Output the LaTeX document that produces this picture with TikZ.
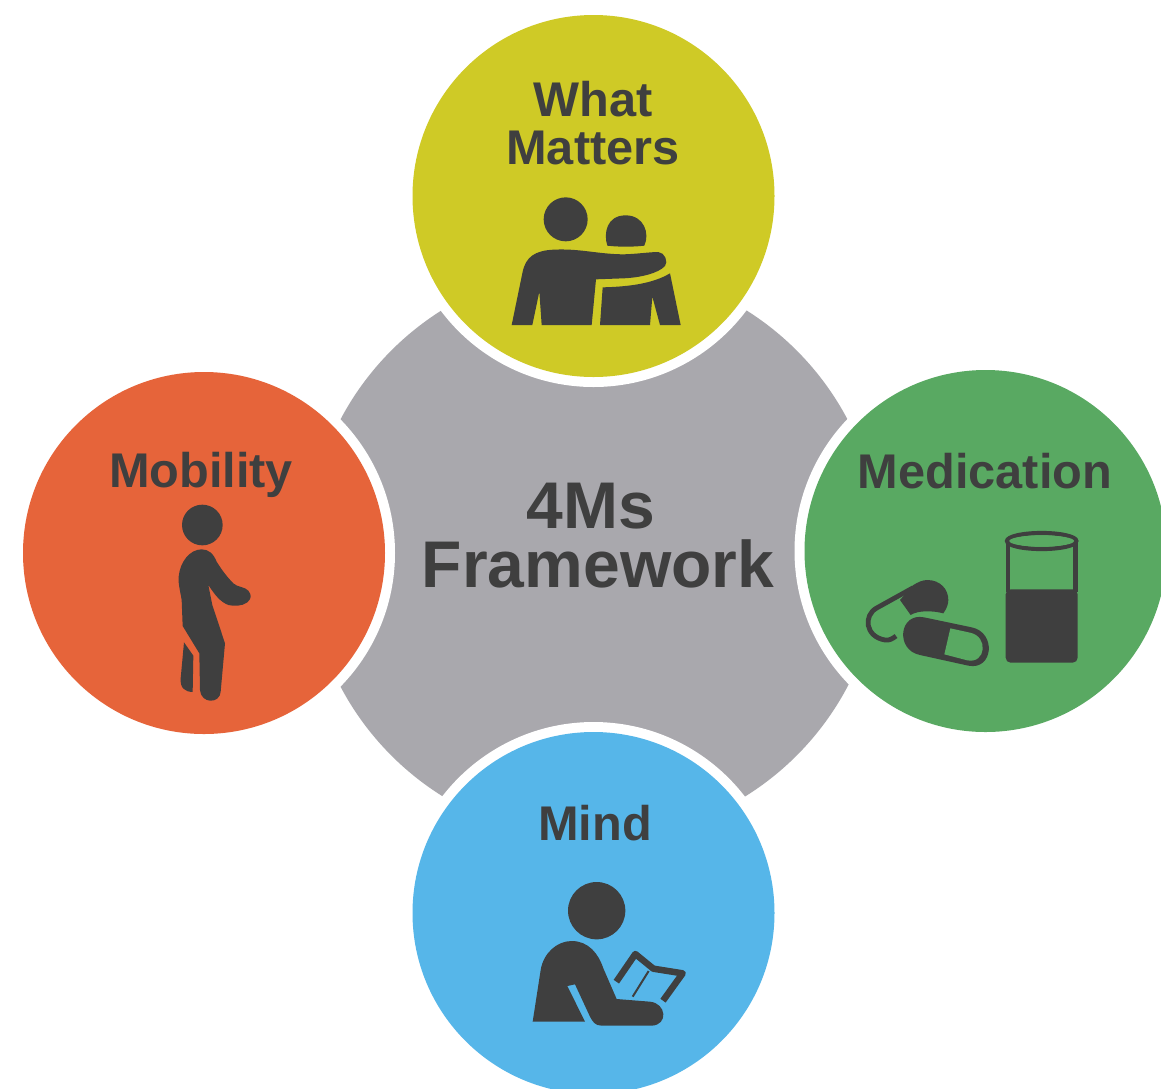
\documentclass[tikz,border=0pt]{standalone}
\usepackage{fontspec}
\setmainfont{Liberation Sans}
\definecolor{ink}{HTML}{3F3F3F}
\definecolor{cyellow}{HTML}{CFCA26}
\definecolor{corange}{HTML}{E6643A}
\definecolor{cgreen}{HTML}{59A962}
\definecolor{cblue}{HTML}{56B6E9}
\definecolor{cgrey}{HTML}{A9A8AD}
\tikzset{
  hub/.style={circle,fill=cgrey,draw=none,inner sep=0pt,minimum size=573pt},
  halo/.style={circle,fill=white,draw=none,inner sep=0pt,minimum size=382pt},
  disc/.style={circle,draw=none,inner sep=0pt,minimum size=362pt},
  lab/.style={text=ink,anchor=base,inner sep=0pt,font=\fontsize{48.7}{48.7}\selectfont\bfseries},
  biglab/.style={text=ink,anchor=base,inner sep=0pt,font=\fontsize{66}{66}\selectfont\bfseries},
  icon/.style={fill=ink,draw=none},
  iconline/.style={draw=ink,fill=none}
}
\begin{document}
\begin{tikzpicture}[x=1pt,y=-1pt]
\useasboundingbox (0,0) rectangle (1161,1088);
\clip (0,0) rectangle (1161,1088);
\fill[white] (0,0) rectangle (1161,1088);
\node[hub] (centre) at (594,553) {};
\node[halo] (h1) at (593.5,196) {};
\node[halo] (h2) at (593.5,913) {};
\node[halo] (h3) at (204,553) {};
\node[halo] (h4) at (985.5,551) {};
\node[disc,fill=cyellow] (top) at (593.5,196) {};
\node[disc,fill=cblue] (bottom) at (593.5,913) {};
\node[disc,fill=corange] (left) at (204,553) {};
\node[disc,fill=cgreen] (right) at (985.5,551) {};
\node[biglab] (t1) at (591,528) {4Ms};
\node[biglab] (t2) at (598,587) {Framework};
\node[lab] (l1) at (593,116.5) {What};
\node[lab] (l2) at (593,164.5) {Matters};
\node[lab] (l3) at (201,487) {Mobility};
\node[lab] (l4) at (985,488.5) {Medication};
\node[lab] (l5) at (595,840.5) {Mind};
% What Matters icon
\begin{scope}[shift={(490,180)},scale=1/3]
\fill[icon] (227,118) circle (66);
\fill[icon] (352,197) .. controls (340,160) and (350,106) .. (407,106) .. controls (462,106) and (480,160) .. (463,197) .. controls (430,201) and (385,201) .. (352,197) -- cycle;
\fill[icon] (65,435) -- (98,275) .. controls (108,230) and (135,212) .. (190,209) .. controls (270,205) and (320,222) .. (400,223) .. controls (440,222) and (480,216) .. (505,216) .. controls (525,218) and (535,245) .. (525,258) .. controls (505,280) and (450,293) .. (400,295) -- (318,298) -- (305,435) -- (155,435) -- (148,335) -- (127,435) -- cycle;
\fill[icon] (338,322) .. controls (420,320) and (490,310) .. (540,280) -- (572,435) -- (510,435) -- (487,350) -- (480,435) -- (330,435) -- cycle;
\end{scope}
% Mobility icon
\begin{scope}[shift={(150,490)},scale=1/3]
\fill[icon] (157,105) circle (61);
\fill[icon] (155,178) .. controls (175,178) and (190,190) .. (200,215) .. controls (215,240) and (235,265) .. (250,280) .. controls (262,292) and (285,290) .. (295,302) .. controls (305,315) and (305,325) .. (292,337) .. controls (275,350) and (250,348) .. (235,345) .. controls (210,335) and (195,315) .. (175,285) -- (187,345) -- (225,460) -- (212,605) .. controls (210,642) and (153,642) .. (150,600) -- (148,490) -- (98,408) -- (95,330) .. controls (90,300) and (84,280) .. (86,260) .. controls (90,215) and (120,178) .. (155,178) -- cycle;
\fill[icon] (102,457) -- (130,497) -- (128,606) .. controls (105,605) and (90,595) .. (92,565) -- cycle;
\end{scope}
% Medication icon
\begin{scope}[shift={(850,520)},scale=1/3]
\fill[icon,rounded corners=5pt] (467,208) rectangle (683,428);
\fill[icon] (467,63) rectangle (480,215);
\fill[icon] (669,63) rectangle (683,215);
\fill[cgreen] (480,80) rectangle (669,208);
\draw[iconline,line width=4.2pt] (575,63) ellipse (104 and 24);
\fill[cgreen] (575,63) ellipse (97 and 17);
% upper capsule
\fill[icon] (150,240) -- (190,195) .. controls (205,186) and (218,180) .. (232,180) .. controls (270,180) and (295,207) .. (295,240) .. controls (295,255) and (288,268) .. (280,280) .. controls (250,272) and (205,270) .. (182,285) -- cycle;
\draw[iconline,line width=4.8pt] (190,203) -- (80,264) .. controls (40,286) and (45,350) .. (105,360) .. controls (118,362) and (128,356) .. (138,348);
% lower capsule
\fill[icon] (222,292) -- (365,322) .. controls (440,337) and (430,452) .. (355,437) -- (210,405) .. controls (135,390) and (147,277) .. (222,292) -- cycle;
\fill[cgreen] (301,325) -- (360,338) .. controls (416,349) and (408,432) .. (352,421) -- (283,403) -- cycle;
\end{scope}
% Mind icon
\begin{scope}[shift={(520,870)},scale=1/3]
\fill[icon] (230,122) circle (86);
\fill[icon] (38,455) -- (62,300) .. controls (70,250) and (110,213) .. (155,213) .. controls (205,213) and (235,250) .. (250,295) -- (290,387) -- (390,395) .. controls (440,400) and (445,465) .. (395,467) -- (245,467) .. controls (225,467) and (218,455) .. (210,440) -- (165,343) -- (142,348) -- (195,455) -- cycle;
\draw[iconline,line width=6.5pt,line join=round] (289,335) -- (346,252) -- (400,296) -- (488,310) -- (429,392);
\draw[iconline,line width=2pt] (386,303) -- (338,380);
\end{scope}
\end{tikzpicture}
\end{document}
